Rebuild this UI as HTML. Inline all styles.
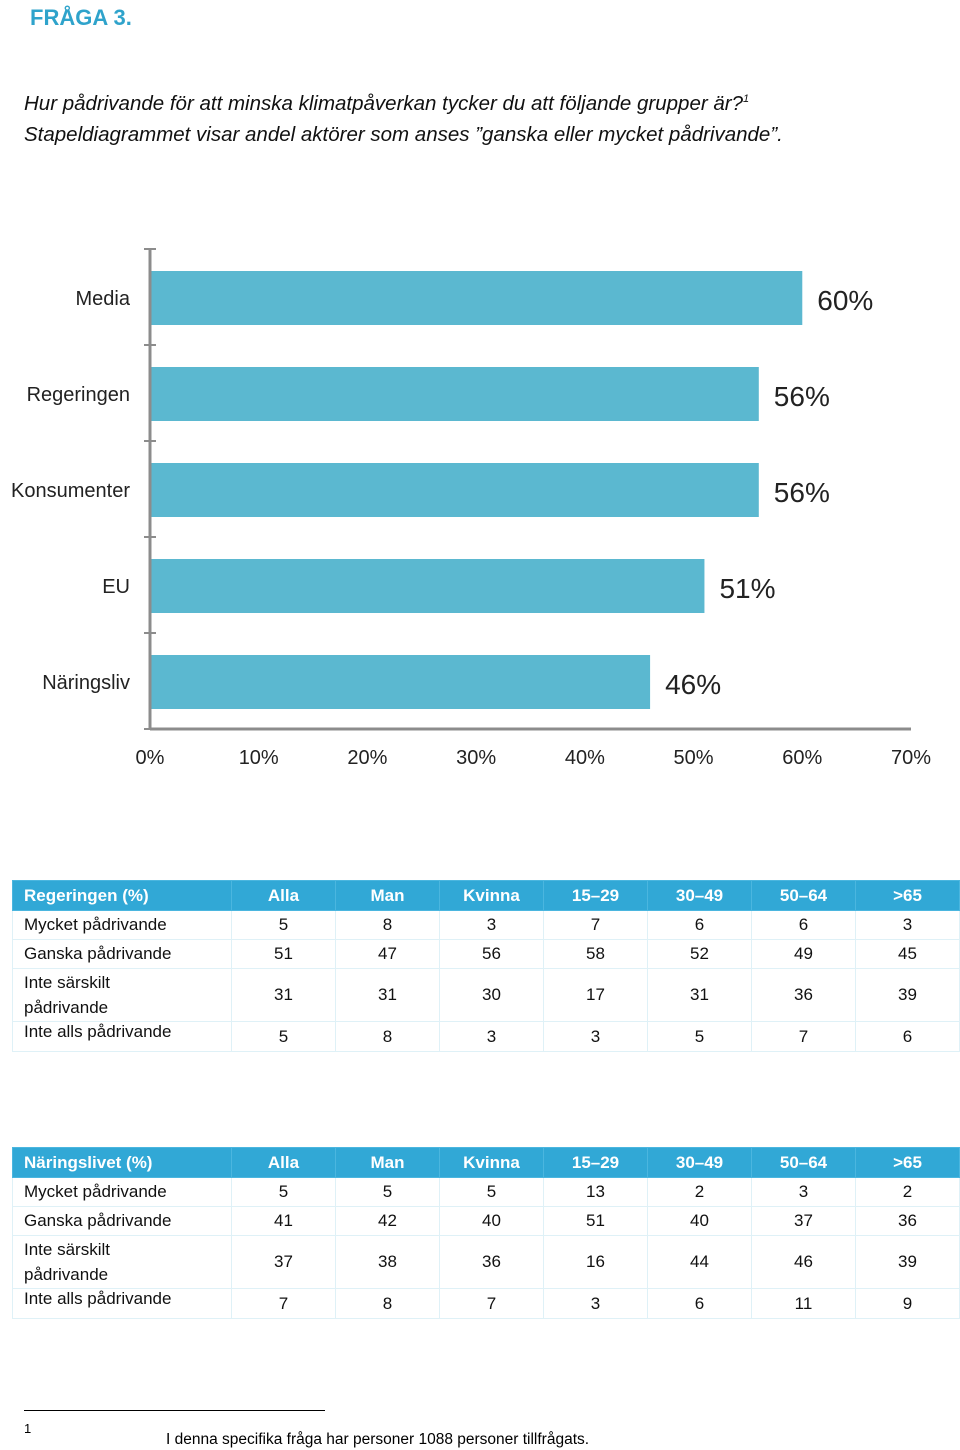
<!DOCTYPE html>
<html><head><meta charset="utf-8">
<style>
body{margin:0;width:960px;height:1450px;background:#fff;position:relative;font-family:"Liberation Sans",sans-serif;overflow:hidden}
.abs{position:absolute;white-space:nowrap}
table{position:absolute;left:12px;border-collapse:collapse;font-size:17px;color:#111}
td{border:1px solid #dff1f7;padding:0;text-align:center}
td:first-child{text-align:left;padding-left:11px;width:207px}
td.n{width:103px}
tr.h td{background:#31a8d6;color:#fff;font-weight:bold;height:29px;border-color:#4bb6df}
</style></head><body>
<div class="abs" style="left:30px;top:5px;font-size:22px;font-weight:bold;color:#2fa3cb">FRÅGA 3.</div>
<div class="abs" style="left:24px;top:84px;font-size:20.5px;font-style:italic;line-height:31px;color:#111">Hur pådrivande för att minska klimatpåverkan tycker du att följande grupper är?<sup style="font-size:11px">1</sup><br>Stapeldiagrammet visar andel aktörer som anses ”ganska eller mycket pådrivande”.</div>

<svg class="abs" style="left:0;top:0" width="960" height="800" id="chart"></svg>

<table style="top:880px">
<tr class="h"><td>Regeringen (%)</td><td class="n">Alla</td><td class="n">Man</td><td class="n">Kvinna</td><td class="n">15–29</td><td class="n">30–49</td><td class="n">50–64</td><td class="n">&gt;65</td></tr>
<tr style="height:29px"><td>Mycket pådrivande</td><td>5</td><td>8</td><td>3</td><td>7</td><td>6</td><td>6</td><td>3</td></tr>
<tr style="height:29px"><td>Ganska pådrivande</td><td>51</td><td>47</td><td>56</td><td>58</td><td>52</td><td>49</td><td>45</td></tr>
<tr style="height:53px"><td style="line-height:25px">Inte särskilt<br>pådrivande</td><td>31</td><td>31</td><td>30</td><td>17</td><td>31</td><td>36</td><td>39</td></tr>
<tr style="height:30px"><td style="vertical-align:top">Inte alls pådrivande</td><td>5</td><td>8</td><td>3</td><td>3</td><td>5</td><td>7</td><td>6</td></tr>
</table>

<table style="top:1147px">
<tr class="h"><td>Näringslivet (%)</td><td class="n">Alla</td><td class="n">Man</td><td class="n">Kvinna</td><td class="n">15–29</td><td class="n">30–49</td><td class="n">50–64</td><td class="n">&gt;65</td></tr>
<tr style="height:29px"><td>Mycket pådrivande</td><td>5</td><td>5</td><td>5</td><td>13</td><td>2</td><td>3</td><td>2</td></tr>
<tr style="height:29px"><td>Ganska pådrivande</td><td>41</td><td>42</td><td>40</td><td>51</td><td>40</td><td>37</td><td>36</td></tr>
<tr style="height:53px"><td style="line-height:25px">Inte särskilt<br>pådrivande</td><td>37</td><td>38</td><td>36</td><td>16</td><td>44</td><td>46</td><td>39</td></tr>
<tr style="height:30px"><td style="vertical-align:top">Inte alls pådrivande</td><td>7</td><td>8</td><td>7</td><td>3</td><td>6</td><td>11</td><td>9</td></tr>
</table>

<div class="abs" style="left:24px;top:1410px;width:301px;height:1px;background:#000"></div>
<div class="abs" style="left:24px;top:1421px;font-size:13px">1</div>
<div class="abs" style="left:166px;top:1431px;font-size:15.5px">I denna specifika fråga har personer 1088 personer tillfrågats.</div>

<script>
const categories=["Media","Regeringen","Konsumenter","EU","Näringsliv"];
const values=[60,56,56,51,46];
const ticks=[0,10,20,30,40,50,60,70];
const svg=document.getElementById('chart');
const NS='http://www.w3.org/2000/svg';
const x0=150,x1=911,xMax=70,yTop=249,band=96;
const xs=v=>x0+(x1-x0)*v/xMax;
function mk(t,a){const e=document.createElementNS(NS,t);for(const k in a)e.setAttribute(k,a[k]);svg.appendChild(e);return e;}
const yBottom=yTop+band*categories.length;
categories.forEach((c,i)=>{
  const y=yTop+i*band+22;
  const r=mk('rect',{x:xs(0),y:y,width:xs(values[i])-xs(0),height:54,fill:'#5bb8d0'});
  
  
  const l=mk('text',{x:130,y:y+34,'text-anchor':'end','font-size':20,fill:'#222'});
  l.textContent=c;
  
  
  const v=mk('text',{x:xs(values[i])+15,y:y+39,'font-size':28,fill:'#222'});
  v.textContent=values[i]+'%';
  
  
});
for(let i=0;i<=categories.length;i++){
  const t=mk('line',{x1:144,x2:156,y1:yTop+i*band,y2:yTop+i*band,stroke:'#8c8c8c','stroke-width':2});
  
  
}
const ya=mk('line',{x1:x0,x2:x0,y1:yTop,y2:yBottom,stroke:'#8c8c8c','stroke-width':3});


const xa=mk('line',{x1:x0,x2:x1,y1:yBottom,y2:yBottom,stroke:'#8c8c8c','stroke-width':3});


ticks.forEach(t=>{
  const e=mk('text',{x:xs(t),y:764,'text-anchor':'middle','font-size':20,fill:'#222'});
  e.textContent=t+'%';
  
  
});
</script>
</body></html>
